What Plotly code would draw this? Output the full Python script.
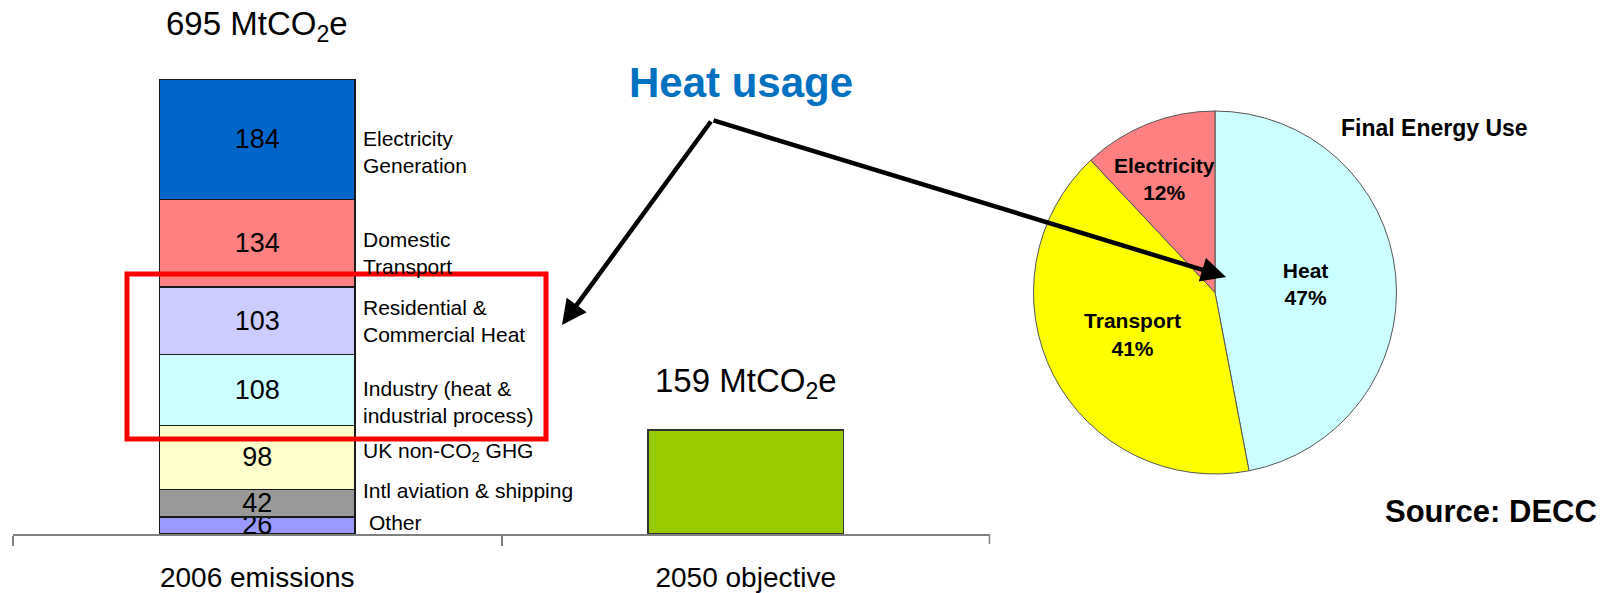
import plotly.graph_objects as go

W, H = 1614, 593

# ---------------- data ----------------
categories = ["2006 emissions", "2050 objective"]
sectors = ["Electricity<br>Generation", "Domestic<br>Transport",
           "Residential &<br>Commercial Heat", "Industry (heat &<br>industrial process)",
           "UK non-CO<sub>2</sub> GHG", "Intl aviation & shipping", "Other"]
emissions_2006 = [184, 134, 103, 108, 98, 42, 26]
objective_2050 = [159]
energy_labels = ["Heat", "Transport", "Electricity"]
energy_share = [47, 41, 12]

# ---------------- styles ----------------
sector_colors = ["#0066CC", "#FF8080", "#CCCCFF", "#CCFFFF", "#FFFFCC", "#999999", "#9999FF"]
objective_color = "#99CC00"
energy_colors = ["#CCFFFF", "#FFFF00", "#FF8080"]
label_yshift = [-13, -10, 0, -12, 5, 13, 3]
label_xshift = [6, 6, 6, 6, 6, 6, 12]
FONT = "Liberation Sans, Arial, sans-serif"


def px(x):
    return x / W


def py(y):
    return 1 - y / H


fig = go.Figure()

# stacked bar, bottom segment first
for name, val, col in reversed(list(zip(sectors, emissions_2006, sector_colors))):
    fig.add_trace(go.Bar(
        x=[categories[0]], y=[val], name=name, width=0.4,
        marker=dict(color=col, line=dict(color="#1a1a1a", width=1.5)),
        text=[str(val)], textposition="inside", insidetextanchor="middle",
        constraintext="none", textangle=0,
        textfont=dict(family=FONT, size=27, color="#000000"),
        cliponaxis=False, showlegend=False, hoverinfo="skip"))

fig.add_trace(go.Bar(
    x=[categories[1]], y=objective_2050, width=0.4,
    marker=dict(color=objective_color, line=dict(color="#333333", width=1.5)),
    showlegend=False, hoverinfo="skip"))

# pie (the narrow Electricity slice gets its label as an annotation so it keeps full size)
pie_textpos = ["inside", "inside", "none"]
fig.add_trace(go.Pie(
    labels=energy_labels, values=energy_share, sort=False, direction="clockwise",
    rotation=0, marker=dict(colors=energy_colors, line=dict(color="#555555", width=1)),
    texttemplate="%{label}<br>%{percent:.0%}", textposition=pie_textpos,
    insidetextorientation="horizontal",
    textfont=dict(family=FONT, size=21, color="#000000", weight="bold"),
    domain=dict(x=[px(1033.5), px(1396.5)], y=[py(474), py(111)]),
    showlegend=False, hoverinfo="skip"))

annotations = []
# sector labels next to the bar
base = 0
centers = []
for val in reversed(emissions_2006):
    centers.append(base + val / 2)
    base += val
centers = list(reversed(centers))
for name, c, dy, dx in zip(sectors, centers, label_yshift, label_xshift):
    annotations.append(dict(
        x=0.2, y=c, xref="x", yref="y", text=name, showarrow=False,
        xanchor="left", yanchor="middle", align="left", xshift=dx, yshift=dy,
        font=dict(family=FONT, size=21, color="#000000")))

# totals above bars
totals = [sum(emissions_2006), sum(objective_2050)]
total_shift = [53, 47]
for cat, t, s in zip(categories, totals, total_shift):
    annotations.append(dict(
        x=cat, y=t, xref="x", yref="y", text=f"{t} MtCO<sub>2</sub>e",
        showarrow=False, xanchor="center", yanchor="middle", yshift=s,
        font=dict(family=FONT, size=33, color="#000000")))

# electricity slice label
elec_pct = round(100 * energy_share[2] / sum(energy_share))
annotations.append(dict(
    x=px(1164), y=py(179), xref="paper", yref="paper",
    text=f"<b>{energy_labels[2]}<br>{elec_pct}%</b>", showarrow=False,
    xanchor="center", yanchor="middle", align="center",
    font=dict(family=FONT, size=21, color="#000000")))

# other texts
annotations += [
    dict(x=px(741), y=py(82), xref="paper", yref="paper", text="<b>Heat usage</b>",
         showarrow=False, xanchor="center", yanchor="middle",
         font=dict(family=FONT, size=42, color="#0070C0")),
    dict(x=px(1434), y=py(128), xref="paper", yref="paper", text="<b>Final Energy Use</b>",
         showarrow=False, xanchor="center", yanchor="middle",
         font=dict(family=FONT, size=23, color="#000000")),
    dict(x=px(1491), y=py(511), xref="paper", yref="paper", text="<b>Source: DECC</b>",
         showarrow=False, xanchor="center", yanchor="middle",
         font=dict(family=FONT, size=31, color="#000000")),
]
# arrows (tail shared, pixel offsets)
tail = (712, 120)
for tip in [(1226, 277), (562, 325)]:
    annotations.append(dict(
        x=px(tip[0]), y=py(tip[1]), xref="paper", yref="paper",
        ax=tail[0] - tip[0], ay=tail[1] - tip[1], axref="pixel", ayref="pixel",
        text="", showarrow=True, arrowhead=2, arrowsize=1.1, arrowwidth=4.5,
        arrowcolor="#000000", standoff=0, startstandoff=0))

fig.update_layout(
    width=W, height=H, margin=dict(l=0, r=0, t=0, b=0),
    paper_bgcolor="white", plot_bgcolor="white", barmode="stack",
    annotations=annotations,
    shapes=[
        dict(type="rect", xref="paper", yref="paper",
             x0=px(127), x1=px(546), y0=py(439), y1=py(274),
             line=dict(color="#FF0000", width=5)),
        dict(type="line", xref="paper", yref="paper",
             x0=px(989.5), x1=px(989.5), y0=py(534), y1=py(544),
             line=dict(color="#808080", width=1.5)),
    ],
    xaxis=dict(domain=[px(13), px(990)], range=[-0.5, 1.5], type="category",
               showline=True, linecolor="#808080", linewidth=1.5,
               ticks="outside", tickson="boundaries", ticklen=10, tickcolor="#808080",
               tickwidth=1.5, showgrid=False, zeroline=False, ticklabelstandoff=18,
               tickfont=dict(family=FONT, size=28, color="#000000")),
    yaxis=dict(domain=[py(534), py(79)], range=[0, sum(emissions_2006)],
               visible=False, showgrid=False, zeroline=False),
)

fig.write_html("out.html", config={"displayModeBar": False},
               post_script="document.body.style.margin='0';document.body.style.overflow='hidden';")
